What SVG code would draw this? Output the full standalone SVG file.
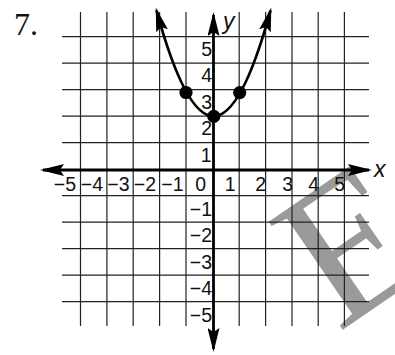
<svg xmlns="http://www.w3.org/2000/svg" width="395" height="355" viewBox="0 0 395 355">
<style>
.grid line{stroke:#222;stroke-width:1.2}
.axis{stroke:#000;stroke-width:2.8;fill:none}
.lbl{font-family:"Liberation Sans",Arial,sans-serif;font-size:19.5px;fill:#111}
.xl{text-anchor:end}
.yl{text-anchor:end}
.var{font-family:"Liberation Sans",Arial,sans-serif;font-size:23px;font-style:italic;fill:#111}
.dot{fill:#000}
.wm{font-family:"Liberation Serif","Times New Roman",serif;font-size:200px;fill:#9a9a9a}
</style>
<defs>
<marker id="ah" markerUnits="userSpaceOnUse" viewBox="0 0 24 12" markerWidth="24" markerHeight="12" refX="21" refY="6" orient="auto-start-reverse">
<path d="M0,0 L24,6 L0,12 L4,6 Z" fill="#000"/>
</marker>
</defs>
<rect width="395" height="355" fill="#fff"/>
<g id="watermark">
<text class="wm" transform="translate(338,333) rotate(-34.4)">E</text>
</g>
<g id="grid" class="grid">
<line x1="80.5" y1="12" x2="80.5" y2="326"/>
<line x1="106.9" y1="12" x2="106.9" y2="326"/>
<line x1="133.2" y1="12" x2="133.2" y2="326"/>
<line x1="159.6" y1="12" x2="159.6" y2="326"/>
<line x1="186" y1="12" x2="186" y2="326"/>
<line x1="239.2" y1="12" x2="239.2" y2="326"/>
<line x1="265.6" y1="12" x2="265.6" y2="326"/>
<line x1="292" y1="12" x2="292" y2="326"/>
<line x1="318.2" y1="12" x2="318.2" y2="326"/>
<line x1="344.4" y1="12" x2="344.4" y2="326"/>
<line x1="62" y1="36.7" x2="369" y2="36.7"/>
<line x1="62" y1="63.2" x2="369" y2="63.2"/>
<line x1="62" y1="89.7" x2="369" y2="89.7"/>
<line x1="62" y1="116.2" x2="369" y2="116.2"/>
<line x1="62" y1="142.7" x2="369" y2="142.7"/>
<line x1="62" y1="195.7" x2="369" y2="195.7"/>
<line x1="62" y1="222.2" x2="369" y2="222.2"/>
<line x1="62" y1="248.7" x2="369" y2="248.7"/>
<line x1="62" y1="275.2" x2="369" y2="275.2"/>
<line x1="62" y1="301.7" x2="369" y2="301.7"/>
</g>
<g id="connectors">
<line id="x-axis" class="axis" x1="43" y1="170" x2="369" y2="170" marker-start="url(#ah)" marker-end="url(#ah)"/>
<line id="y-axis" class="axis" x1="213.5" y1="15" x2="213.5" y2="349" marker-start="url(#ah)" marker-end="url(#ah)"/>
<path id="curve" class="axis" d="M156.5,10.5 Q185.4,116.2 213.5,116.2 Q241.6,116.2 270.5,10.5" marker-start="url(#ah)" marker-end="url(#ah)"/>
</g>
<g id="points">
<circle class="dot" cx="186" cy="92.5" r="6.6"/>
<circle class="dot" cx="213.8" cy="116.3" r="6.6"/>
<circle class="dot" cx="239.7" cy="92.6" r="6.6"/>
</g>
<g id="labels">
<text x="14" y="35" style="font-family:'Liberation Serif','Times New Roman',serif;font-size:32px;fill:#111">7.</text>
<text class="var" x="374" y="177">x</text>
<text class="var" x="223" y="29">y</text>
<g class="lbl xl">
<text x="76" y="191">−5</text>
<text x="103" y="191">−4</text>
<text x="129.5" y="191">−3</text>
<text x="156" y="191">−2</text>
<text x="183.5" y="191">−1</text>
<text x="206" y="191">0</text>
<text x="235.5" y="191">1</text>
<text x="266" y="191">2</text>
<text x="293" y="191">3</text>
<text x="319" y="191">4</text>
<text x="345" y="191">5</text>
</g>
<g class="lbl yl">
<text x="212" y="55.5">5</text>
<text x="212" y="82">4</text>
<text x="212" y="108.5">3</text>
<text x="212" y="135">2</text>
<text x="211.5" y="161.5">1</text>
<text x="212" y="215.5">−1</text>
<text x="212" y="242">−2</text>
<text x="212" y="268.5">−3</text>
<text x="212" y="295">−4</text>
<text x="212" y="321.5">−5</text>
</g>
</g>
</svg>
